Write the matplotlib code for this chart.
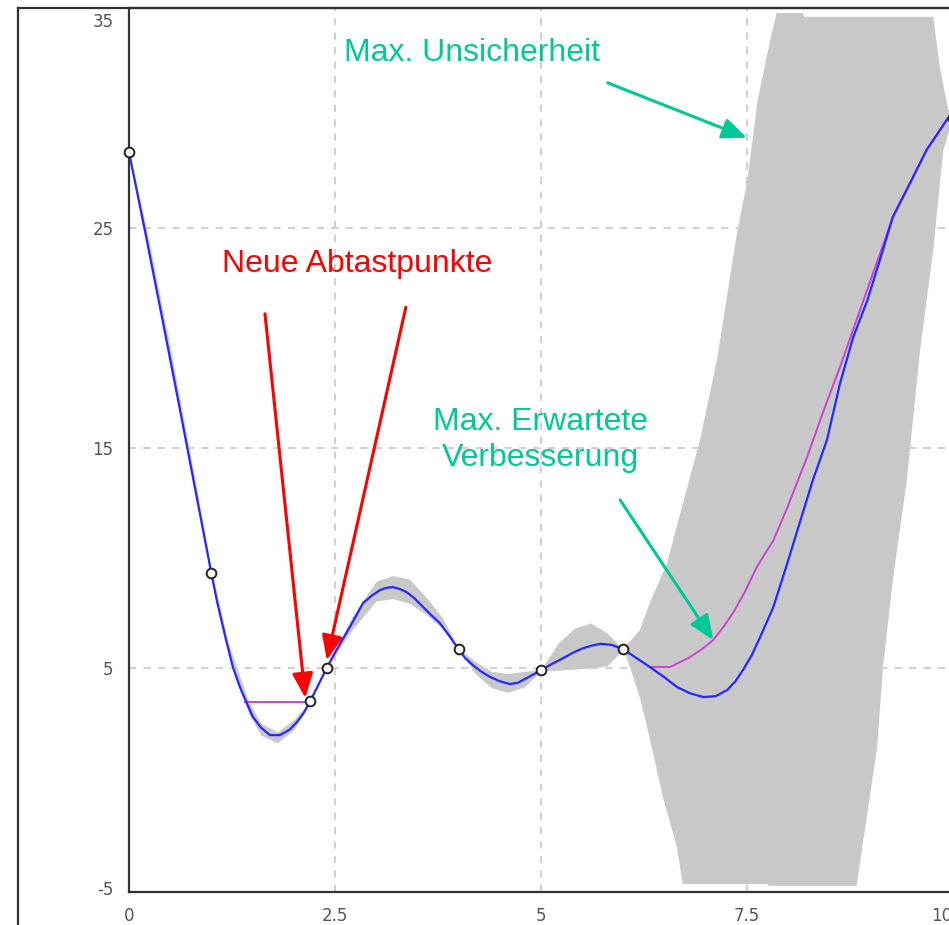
import numpy as np
import matplotlib.pyplot as plt
import matplotlib.transforms as mtransforms
from matplotlib.lines import Line2D

plt.rcParams['axes.unicode_minus'] = False

# sampled points (last one at x=10 sits just outside the picture)
pts_x = [0, 1.0, 2.2, 2.4, 4.0, 5.0, 6.0, 10.0]
pts_y = [28.45, 9.3, 3.5, 5.0, 5.85, 4.9, 5.85, 30.0]

# GP mean (blue)
mean_x = [0, 0.2, 0.4, 0.6, 0.8, 1.0, 1.07, 1.17, 1.26, 1.35, 1.43, 1.5, 1.6,
          1.71, 1.83, 1.95, 2.04, 2.12, 2.2, 2.3, 2.4, 2.5, 2.6, 2.68, 2.76,
          2.84, 2.95, 3.05, 3.12, 3.2, 3.28, 3.37, 3.47, 3.57, 3.67, 3.77, 3.88,
          4.0, 4.08, 4.17, 4.27, 4.38, 4.5, 4.62, 4.72, 4.83, 5.0, 5.13, 5.27,
          5.39, 5.51, 5.62, 5.72, 5.86, 6.0, 6.16, 6.32, 6.49, 6.65, 6.81, 6.97,
          7.12, 7.26, 7.36, 7.45, 7.56, 7.66, 7.82, 7.99, 8.14, 8.3, 8.47, 8.63,
          8.79, 8.96, 9.15, 9.27, 9.48, 9.68, 9.94, 10.0]
mean_y = [28.45, 24.75, 20.95, 17.1, 13.2, 9.3, 8.0, 6.4, 5.05, 4.1, 3.4, 2.8,
          2.3, 1.95, 1.95, 2.2, 2.55, 2.95, 3.5, 4.25, 5.0, 5.7, 6.35, 6.86,
          7.4, 7.95, 8.3, 8.55, 8.64, 8.68, 8.6, 8.45, 8.15, 7.77, 7.4, 7.05,
          6.5, 5.85, 5.45, 5.14, 4.85, 4.6, 4.4, 4.27, 4.33, 4.55, 4.9, 5.18,
          5.45, 5.7, 5.9, 6.02, 6.1, 6.05, 5.85, 5.45, 5.05, 4.6, 4.14, 3.85,
          3.68, 3.72, 4.0, 4.4, 4.9, 5.6, 6.41, 7.77, 9.77, 11.6, 13.55, 15.36,
          17.95, 20.05, 21.7, 24.0, 25.5, 27.05, 28.55, 30.0, 30.3]

# magenta curve, two pieces
mag1_x = [1.41, 2.2]
mag1_y = [3.45, 3.45]
mag2_x = [6.32, 6.57, 6.81, 6.95, 7.09, 7.21, 7.33, 7.48, 7.62, 7.82, 7.99,
          8.23, 8.42, 8.63, 8.79, 8.96, 9.27, 9.48, 9.68, 9.94]
mag2_y = [5.05, 5.05, 5.5, 5.85, 6.27, 6.85, 7.5, 8.5, 9.6, 10.8, 12.3,
          14.6, 16.6, 18.7, 20.4, 22.2, 25.5, 27.05, 28.55, 30.0]

# uncertainty band, left part (0..6)
band_x = [0, 0.2, 0.5, 0.8, 1.0, 1.2, 1.45, 1.6, 1.8, 2.0, 2.2, 2.4, 2.7,
          3.0, 3.2, 3.4, 3.6, 3.8, 4.0, 4.2, 4.4, 4.6, 4.8, 5.0, 5.2, 5.4,
          5.6, 5.8, 6.0]
band_lo = [28.45, 24.7, 19.0, 13.1, 9.3, 5.8, 2.95, 1.95, 1.6, 2.2, 3.5, 5.0,
           6.7, 8.05, 8.15, 7.95, 7.45, 6.8, 5.85, 4.75, 4.1, 3.9, 4.15, 4.88,
           4.9, 4.95, 5.0, 5.1, 5.85]
band_hi = [28.45, 25.2, 19.6, 13.6, 9.45, 6.2, 3.5, 2.5, 2.1, 2.65, 3.5, 5.0,
           7.3, 8.95, 9.2, 9.05, 8.25, 7.3, 5.9, 5.3, 4.85, 4.75, 4.85, 4.92,
           6.1, 6.8, 7.05, 6.6, 5.85]

# right part (6..10), upper and lower edges
up_x = [6.0, 6.2, 6.32, 6.53, 6.71, 6.93, 7.14, 7.38, 7.5, 7.63, 7.78, 7.86,
        8.18, 8.19, 9.76, 9.84, 9.94, 10.0]
up_y = [5.85, 6.73, 7.95, 9.77, 12.3, 15.36, 19.1, 24.8, 27.05, 30.8, 33.5,
        34.77, 34.77, 34.6, 34.6, 32.3, 30.4, 30.0]
low_x = [6.0, 6.08, 6.2, 6.32, 6.48, 6.65, 6.72, 7.75, 7.76, 8.83, 8.96, 9.08,
         9.15, 9.27, 9.44, 9.6, 9.76, 9.88, 10.0]
low_y = [5.85, 5.05, 3.68, 1.8, -0.86, -3.14, -4.82, -4.82, -4.9, -4.9, -1.6,
         1.41, 5.05, 9.0, 13.55, 19.45, 24.0, 28.5, 30.0]

xticks = [0, 2.5, 5, 7.5, 10]
xtick_labels = ['0', '2.5', '5', '7.5', '10']
yticks = [-5, 5, 15, 25, 35]
xgrid = [2.5, 5, 7.5]
ygrid = [5, 15, 25]

green = '#00c896'
band_col = '#c8c8c8'

fig = plt.figure(figsize=(9.49, 9.25), dpi=100)
ax = fig.add_axes([129 / 949, 33 / 925, 824 / 949, 884 / 925])
ax.set_xlim(0, 10)
ax.set_ylim(-5.18, 35)

for gx in xgrid:
    ax.axvline(gx, color='#cccccc', ls=(0, (4, 4)), lw=1.3, zorder=0)
for gy in ygrid:
    ax.axhline(gy, color='#cccccc', ls=(0, (4, 4)), lw=1.3, zorder=0)

ax.fill_between(band_x, band_lo, band_hi, color=band_col, lw=0, zorder=1)
ax.fill(up_x + low_x[::-1], up_y + low_y[::-1], color=band_col, lw=0, zorder=1)

ax.plot(mag1_x, mag1_y, color='#cc44cc', lw=1.4, zorder=2)
ax.plot(mag2_x, mag2_y, color='#cc44cc', lw=1.4, zorder=2)
ax.plot(mean_x, mean_y, color='#2626ff', lw=1.6, zorder=3)
ax.plot(pts_x, pts_y, 'o', ms=7, mfc='white', mec='#222222', mew=1.4,
        zorder=4, clip_on=False)

ax.set_xticks(xticks)
ax.set_xticklabels(xtick_labels)
ax.set_yticks(yticks)
ax.tick_params(length=0, labelsize=12, labelcolor='#555555')
ax.tick_params(axis='x', pad=11)
ax.tick_params(axis='y', pad=11)
for side in ['left', 'bottom', 'top']:
    ax.spines[side].set_color('#333333')
    ax.spines[side].set_linewidth(1.6)
ax.spines['right'].set_visible(False)

# edge labels are nudged inwards in the original
fig.canvas.draw()
lab35 = ax.get_yticklabels()[-1]
lab35.set_transform(lab35.get_transform() +
                    mtransforms.ScaledTranslation(0, -12 / 100, fig.dpi_scale_trans))
lab10 = ax.get_xticklabels()[-1]
lab10.set_transform(lab10.get_transform() +
                    mtransforms.ScaledTranslation(-11 / 100, 0, fig.dpi_scale_trans))

# outer frame
fig.add_artist(Line2D([18 / 949, 18 / 949], [0, 917 / 925], color='#333333', lw=1.6))
fig.add_artist(Line2D([18 / 949, 1], [917 / 925, 917 / 925], color='#333333', lw=1.6))

tfont = dict(family=['Liberation Sans', 'DejaVu Sans'], fontsize=23)
arr = '-|>,head_length=1.0,head_width=0.42'

ax.text(2.77, 23.36, 'Neue Abtastpunkte', color='red', ha='center', va='center', **tfont)
ax.annotate('', xy=(2.14, 3.64), xytext=(1.65, 21.1),
            arrowprops=dict(arrowstyle=arr, color='red', lw=2.2,
                            mutation_scale=15, shrinkA=0, shrinkB=0))
ax.annotate('', xy=(2.40, 5.36), xytext=(3.36, 21.4),
            arrowprops=dict(arrowstyle=arr, color='red', lw=2.2,
                            mutation_scale=15, shrinkA=0, shrinkB=0))

ax.text(4.16, 32.95, 'Max. Unsicherheit', color=green, ha='center', va='center', **tfont)
ax.annotate('', xy=(7.5, 29.1), xytext=(5.81, 31.6),
            arrowprops=dict(arrowstyle=arr, color=green, lw=2.2,
                            mutation_scale=15, shrinkA=0, shrinkB=0))

ax.text(4.99, 15.36, 'Max. Erwartete\nVerbesserung', color=green, ha='center',
        va='center', linespacing=1.25, **tfont)
ax.annotate('', xy=(7.09, 6.27), xytext=(5.96, 12.64),
            arrowprops=dict(arrowstyle=arr, color=green, lw=2.2,
                            mutation_scale=15, shrinkA=0, shrinkB=0))

fig.savefig('out.png', dpi=100)
